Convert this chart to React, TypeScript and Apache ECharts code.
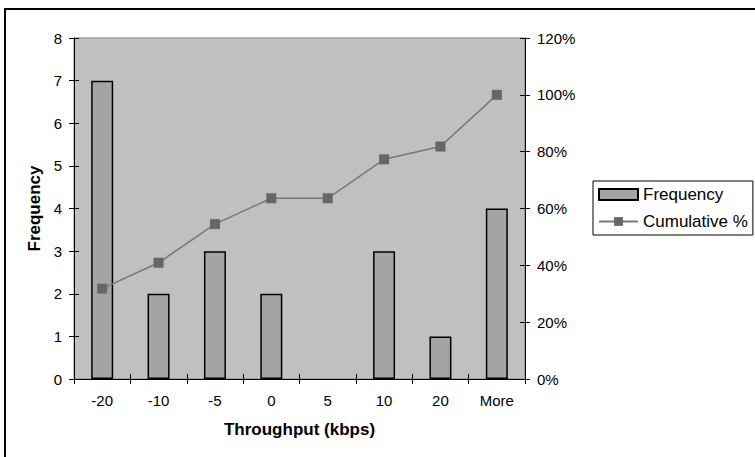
import React, { useEffect, useRef } from "react";
import * as echarts from "echarts";

const categories = ["-20", "-10", "-5", "0", "5", "10", "20", "More"];
const frequency = [7, 2, 3, 2, 0, 3, 1, 4];
const cumulativePct = [0.318, 0.409, 0.545, 0.636, 0.636, 0.773, 0.818, 1.0];
const leftTicks = { min: 0, max: 8, interval: 1 };
const rightTicks = { min: 0, max: 1.2, interval: 0.2 };

const FONT = "'Liberation Sans', Arial, sans-serif";

export default function App() {
  const ref = useRef<HTMLDivElement>(null);
  useEffect(() => {
    if (!ref.current) return;
    const chart = echarts.init(ref.current, undefined, { renderer: "svg" });
    const tickStyle = { color: "#000", width: 1 };
    chart.setOption({
      animation: false,
      textStyle: { fontFamily: FONT },
      graphic: [
        {
          type: "rect",
          shape: { x: 5, y: 9, width: 800, height: 500 },
          style: { fill: "none", stroke: "#000", lineWidth: 2 },
          z: 100,
        },
      ],
      grid: {
        left: 74,
        right: 230,
        top: 38,
        bottom: 78,
        show: true,
        backgroundColor: "#c0c0c0",
        borderColor: "#808080",
        borderWidth: 1,
      },
      legend: {
        orient: "vertical",
        left: 593,
        top: 181,
        padding: [5, 5, 5, 5],
        itemGap: 10,
        itemWidth: 39,
        itemHeight: 11,
        borderColor: "#000",
        borderWidth: 1,
        textStyle: { fontFamily: FONT, fontSize: 17, color: "#000" },
        data: [
          { name: "Frequency", icon: "rect" },
          { name: "Cumulative %" },
        ],
      },
      xAxis: [
        {
          type: "category",
          data: categories,
          boundaryGap: true,
          name: "Throughput (kbps)",
          nameLocation: "middle",
          nameGap: 42,
          nameTextStyle: { fontFamily: FONT, fontSize: 17, fontWeight: "bold", color: "#000" },
          axisLine: { lineStyle: { color: "#000", width: 1 } },
          axisTick: { show: true, length: 5, lineStyle: tickStyle },
          axisLabel: { fontFamily: FONT, fontSize: 15, color: "#000", margin: 14 },
          splitLine: { show: false },
        },
        {
          type: "category",
          data: categories,
          boundaryGap: true,
          position: "bottom",
          axisLine: { show: false },
          axisTick: { show: true, inside: true, length: 5, lineStyle: tickStyle },
          axisLabel: { show: false },
          splitLine: { show: false },
        },
      ],
      yAxis: [
        {
          type: "value",
          position: "left",
          ...leftTicks,
          name: "Frequency",
          nameLocation: "middle",
          nameGap: 31,
          nameTextStyle: { fontFamily: FONT, fontSize: 17, fontWeight: "bold", color: "#000" },
          axisLine: { show: true, lineStyle: { color: "#000", width: 1 } },
          axisTick: { show: true, length: 5, lineStyle: tickStyle },
          axisLabel: { fontFamily: FONT, fontSize: 15, color: "#000", margin: 12 },
          splitLine: { show: false },
        },
        {
          type: "value",
          position: "right",
          ...rightTicks,
          axisLine: { show: true, lineStyle: { color: "#000", width: 1 } },
          axisTick: { show: true, length: 5, lineStyle: tickStyle },
          axisLabel: {
            fontFamily: FONT,
            fontSize: 15,
            color: "#000",
            margin: 12,
            formatter: (v: number) => Math.round(v * 100) + "%",
          },
          splitLine: { show: false },
        },
        {
          type: "value",
          position: "left",
          ...leftTicks,
          axisLine: { show: false },
          axisTick: { show: true, inside: true, length: 5, lineStyle: tickStyle },
          axisLabel: { show: false },
          splitLine: { show: false },
        },
        {
          type: "value",
          position: "right",
          ...rightTicks,
          axisLine: { show: false },
          axisTick: { show: true, inside: true, length: 5, lineStyle: tickStyle },
          axisLabel: { show: false },
          splitLine: { show: false },
        },
      ],
      series: [
        {
          name: "Frequency",
          type: "bar",
          xAxisIndex: 0,
          yAxisIndex: 0,
          data: frequency.map((v) =>
            v === 0 ? { value: v, itemStyle: { borderWidth: 0, opacity: 0 } } : v
          ),
          barWidth: 22,
          itemStyle: { color: "#a4a4a4", borderColor: "#000", borderWidth: 1.5 },
          z: 2,
        },
        {
          name: "Cumulative %",
          type: "line",
          xAxisIndex: 0,
          yAxisIndex: 1,
          data: cumulativePct,
          symbol: "rect",
          symbolSize: 10,
          lineStyle: { color: "#777777", width: 1.5 },
          itemStyle: { color: "#666666" },
          z: 3,
        },
      ],
    });
    return () => chart.dispose();
  }, []);
  return (
    <div
      ref={ref}
      style={{ position: "absolute", left: 0, top: 0, width: 755, height: 457, background: "#fff" }}
    />
  );
}
